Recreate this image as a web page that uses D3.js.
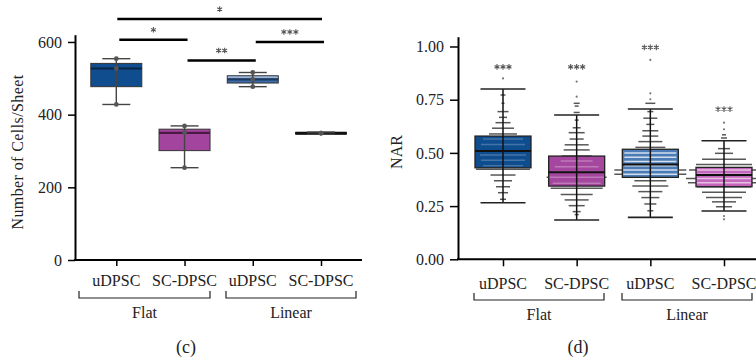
<!DOCTYPE html>
<html><head><meta charset="utf-8">
<script src="https://cdn.jsdelivr.net/npm/d3@7"></script>
<style>body{margin:0;background:#fff}svg{display:block}text{font-family:"Liberation Serif","Times New Roman",serif;fill:#222}</style>
</head><body>
<script>
// ---------- DATA ----------
const categories = ["uDPSC", "SC-DPSC", "uDPSC ", "SC-DPSC "];
const catLabels = ["uDPSC", "SC-DPSC", "uDPSC", "SC-DPSC"];
const groups = ["Flat", "Linear"];
// panel (c): Number of Cells/Sheet
const cellQ1 = [477, 301, 487, 347];
const cellMedian = [527, 350, 497, 349];
const cellQ3 = [541, 360, 507, 351];
const cellLow = [428, 254, 477, 346];
const cellHigh = [554, 369, 516, 352];
const cellPoints = [[554, 527, 428], [369, 350, 254], [516, 497, 477], [349, 349, 349]];
const cellTicks = [0, 200, 400, 600];
// significance: [from, to, label, level]
const cellSig = [[0, 1, "*", 606], [1, 2, "**", 549], [2, 3, "***", 600], [0, 3, "*", 663]];
// panel (d): NAR
const narQ1 = [0.430, 0.344, 0.385, 0.341];
const narMedian = [0.509, 0.409, 0.446, 0.396];
const narQ3 = [0.579, 0.485, 0.517, 0.432];
const narLow = [0.266, 0.185, 0.197, 0.227];
const narHigh = [0.800, 0.678, 0.706, 0.557];
const narOutliers = [[0.85], [0.835, 0.764], [0.937, 0.78, 0.752], [0.642, 0.611, 0.203, 0.188]];
const narStars = ["***", "***", "***", "***"];
const narStarLevel = [0.904, 0.904, 0.996, 0.706];
const narTicks = [0, 0.25, 0.5, 0.75, 1.0];
// swarm levels: [value, number of points lined up at that value]
const narSwarm0 = [[0.772,5],[0.733,3],[0.694,11],[0.667,8],[0.642,15],[0.616,22],[0.589,28],[0.565,40],[0.54,44],[0.51,50],[0.49,46],[0.465,44],[0.44,40],[0.423,54],[0.396,25],[0.369,18],[0.341,14],[0.313,10],[0.282,6]];
const narSwarm1 = [[0.733,6],[0.72,4],[0.69,6],[0.654,4],[0.618,8],[0.595,16],[0.565,14],[0.538,24],[0.514,26],[0.485,30],[0.462,32],[0.435,44],[0.409,50],[0.385,60],[0.357,48],[0.334,52],[0.305,32],[0.279,24],[0.252,16],[0.224,8],[0.21,4]];
const narSwarm2 = [[0.733,10],[0.694,6],[0.663,14],[0.634,8],[0.604,16],[0.579,16],[0.553,24],[0.526,30],[0.50,52],[0.48,52],[0.46,52],[0.44,52],[0.42,72],[0.40,72],[0.369,32],[0.344,36],[0.318,24],[0.29,18],[0.26,12],[0.228,6]];
const narSwarm3 = [[0.585,4],[0.57,6],[0.52,12],[0.498,18],[0.47,44],[0.446,56],[0.42,70],[0.40,56],[0.38,76],[0.36,72],[0.341,54],[0.315,44],[0.29,36],[0.27,24],[0.247,16]];
const narSwarm = [narSwarm0, narSwarm1, narSwarm2, narSwarm3];

const colorsC = ["#0f4d8f", "#a3449e", "#3d6ca8", "#9a9a9a"];
const mediansC = ["#0a2444", "#4a1846", "#1c3a60", "#111"];
const colorsD = ["#0f4d8f", "#a5469f", "#4c7cb6", "#c366bc"];
const stripeOpacity = [0.22, 0.28, 0.75, 0.6];
const FS = 16;

const W = 756, H = 360;
const svg = d3.select("body").append("svg").attr("width", W).attr("height", H);
const starPath = d3.symbol().type(d3.symbolAsterisk).size(22)();

function bracketAxis(g, x, labelY, bracketY, spans) {
  g.selectAll(".cl").data(categories).join("text")
    .attr("x", d => x(d)).attr("y", labelY).attr("text-anchor", "middle")
    .attr("font-size", FS).text((d, i) => catLabels[i]);
  spans.forEach((s, i) => {
    g.append("path").attr("d", `M${s[0]},${bracketY - 7}V${bracketY}H${s[1]}V${bracketY - 7}`)
      .attr("fill", "none").attr("stroke", "#222").attr("stroke-width", 1.2);
    g.append("text").attr("x", (s[0] + s[1]) / 2).attr("y", bracketY + 20)
      .attr("text-anchor", "middle").attr("font-size", FS).text(groups[i]);
  });
}
function stars(g, cx, cy, label) {
  const n = label.length, sp = 6;
  g.selectAll(null).data(d3.range(n)).join("path")
    .attr("d", starPath)
    .attr("transform", k => `translate(${cx + (k - (n - 1) / 2) * sp},${cy})`)
    .attr("fill", "none").attr("stroke", "#555").attr("stroke-width", 1.1);
}

// ================= PANEL (c) =================
{
  const g = svg.append("g");
  const y = d3.scaleLinear().domain([0, 620]).range([260, 34.7]);
  const x = d3.scalePoint().domain(categories).range([116.3, 321]);
  const bw = 51, cw = 14;
  const ya = g.append("g").attr("transform", "translate(75,0)")
    .call(d3.axisLeft(y).tickValues(cellTicks).tickSize(7).tickSizeOuter(0).tickPadding(6).tickFormat(d3.format("d")));
  ya.select(".domain").attr("stroke-width", 2);
  ya.selectAll(".tick line").attr("stroke-width", 1.5);
  ya.selectAll("text").attr("font-size", FS).attr("font-family", "Liberation Serif").attr("fill", "#222");
  const xa = g.append("g").attr("transform", "translate(0,260)")
    .call(d3.axisBottom(x).tickSize(6).tickSizeOuter(0).tickFormat(""));
  xa.select(".domain").remove();
  xa.selectAll(".tick line").attr("stroke-width", 1.5);
  g.append("line").attr("x1", 74).attr("x2", 362).attr("y1", 260).attr("y2", 260).attr("stroke", "#000").attr("stroke-width", 2);
  bracketAxis(g, x, 285.5, 298, [[79, 210], [226, 356]]);
  g.append("text").attr("transform", "translate(23,152) rotate(-90)").attr("text-anchor", "middle")
    .attr("font-size", FS).attr("letter-spacing", 0.4).text("Number of Cells/Sheet");
  categories.forEach((c, i) => {
    const cx = x(c);
    const top = y(cellQ3[i]), bot = y(cellQ1[i]);
    g.append("rect").attr("x", cx - bw / 2).attr("y", top).attr("width", bw).attr("height", Math.max(bot - top, 1.5))
      .attr("fill", colorsC[i]).attr("stroke", "#333").attr("stroke-width", 1);
    if (i === 2) {
      g.append("rect").attr("x", cx - bw / 2 + 0.5).attr("y", top + 0.5).attr("width", bw - 1)
        .attr("height", y(cellMedian[i]) - top - 1.5).attr("fill", "#9fb3d0");
    }
    g.append("line").attr("x1", cx - bw / 2).attr("x2", cx + bw / 2).attr("y1", y(cellMedian[i])).attr("y2", y(cellMedian[i]))
      .attr("stroke", mediansC[i]).attr("stroke-width", i === 3 ? 3 : 2.2);
    g.append("line").attr("x1", cx).attr("x2", cx).attr("y1", y(cellHigh[i])).attr("y2", y(cellLow[i]))
      .attr("stroke", "#444").attr("stroke-width", 1.4);
    [cellHigh[i], cellLow[i]].forEach(v => g.append("line").attr("x1", cx - cw).attr("x2", cx + cw)
      .attr("y1", y(v)).attr("y2", y(v)).attr("stroke", "#444").attr("stroke-width", 1.4));
    g.selectAll(null).data(cellPoints[i]).join("circle").attr("cx", cx).attr("cy", d => y(d)).attr("r", 2.4)
      .attr("fill", "#555");
  });
  cellSig.forEach(s => {
    const inset = s[1] - s[0] === 1 ? 3 : 1;
    const x1 = x(categories[s[0]]) + inset, x2 = x(categories[s[1]]) + inset;
    g.append("line").attr("x1", x1).attr("x2", x2).attr("y1", y(s[3])).attr("y2", y(s[3]))
      .attr("stroke", "#000").attr("stroke-width", 2.4);
    stars(g, (x1 + x2) / 2, y(s[3]) - 10, s[2]);
  });
  g.append("text").attr("x", 186).attr("y", 353).attr("text-anchor", "middle").attr("font-size", 18).text("(c)");
}

// ================= PANEL (d) =================
{
  const g = svg.append("g");
  const y = d3.scaleLinear().domain([0, 1.046]).range([259.3, 36.7]);
  const x = d3.scalePoint().domain(categories).range([503, 724]);
  const bw = 56, cw = 22.5;
  const ya = g.append("g").attr("transform", "translate(458,0)")
    .call(d3.axisLeft(y).tickValues(narTicks).tickSize(8).tickSizeOuter(0).tickPadding(6).tickFormat(d3.format(".2f")));
  ya.select(".domain").attr("stroke-width", 2);
  ya.selectAll(".tick line").attr("stroke-width", 1.5);
  ya.selectAll("text").attr("font-size", FS).attr("font-family", "Liberation Serif").attr("fill", "#222");
  const xa = g.append("g").attr("transform", "translate(0,259.3)")
    .call(d3.axisBottom(x).tickSize(7).tickSizeOuter(0).tickFormat(""));
  xa.select(".domain").remove();
  xa.selectAll(".tick line").attr("stroke-width", 1.5);
  g.append("line").attr("x1", 457).attr("x2", 756).attr("y1", 259.3).attr("y2", 259.3).attr("stroke", "#000").attr("stroke-width", 2);
  bracketAxis(g, x, 288.5, 300, [[474, 604], [622, 752]]);
  g.append("text").attr("transform", "translate(402,152) rotate(-90)").attr("text-anchor", "middle")
    .attr("font-size", FS).text("NAR");

  const defs = svg.append("defs");
  categories.forEach((c, i) => {
    const cx = x(c);
    const top = y(narQ3[i]), bot = y(narQ1[i]);
    g.selectAll(null).data(narSwarm[i]).join("line")
      .attr("x1", d => cx - d[1] / 2).attr("x2", d => cx + d[1] / 2)
      .attr("y1", d => y(d[0])).attr("y2", d => y(d[0]))
      .attr("stroke", "#3a3a3a").attr("stroke-opacity", 0.85).attr("stroke-width", 1.5);
    g.append("rect").attr("x", cx - bw / 2).attr("y", top).attr("width", bw).attr("height", bot - top)
      .attr("fill", colorsD[i]).attr("stroke", "#222").attr("stroke-width", 1.3);
    const id = "clipD" + i;
    defs.append("clipPath").attr("id", id).append("rect")
      .attr("x", cx - bw / 2 + 1).attr("y", top + 1).attr("width", bw - 2).attr("height", bot - top - 2);
    g.append("g").attr("clip-path", `url(#${id})`).selectAll("line").data(narSwarm[i]).join("line")
      .attr("x1", d => cx - d[1] / 2).attr("x2", d => cx + d[1] / 2)
      .attr("y1", d => y(d[0])).attr("y2", d => y(d[0]))
      .attr("stroke", "#fff").attr("stroke-opacity", stripeOpacity[i]).attr("stroke-width", 1.5);
    g.append("line").attr("x1", cx - bw / 2).attr("x2", cx + bw / 2).attr("y1", y(narMedian[i])).attr("y2", y(narMedian[i]))
      .attr("stroke", "#111").attr("stroke-width", 2);
    g.append("line").attr("x1", cx).attr("x2", cx).attr("y1", y(narHigh[i])).attr("y2", y(narLow[i]))
      .attr("stroke", "#111").attr("stroke-width", 1.5);
    [narHigh[i], narLow[i]].forEach(v => g.append("line").attr("x1", cx - cw).attr("x2", cx + cw)
      .attr("y1", y(v)).attr("y2", y(v)).attr("stroke", "#222").attr("stroke-width", 1.6));
    g.selectAll(null).data(narOutliers[i]).join("circle").attr("cx", cx).attr("cy", d => y(d)).attr("r", 1.1)
      .attr("fill", "#777");
    stars(g, cx, y(narStarLevel[i]), narStars[i]);
  });
  g.append("text").attr("x", 578).attr("y", 353).attr("text-anchor", "middle").attr("font-size", 18).text("(d)");
}
</script>
</body></html>
